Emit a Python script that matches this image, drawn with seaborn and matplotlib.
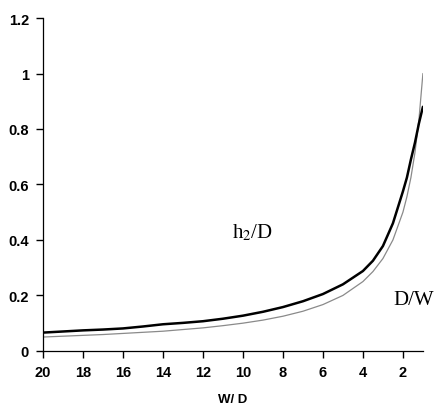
import matplotlib
matplotlib.use("Agg")
import matplotlib.pyplot as plt
import seaborn as sns
import pandas as pd

# W/D ratios along the horizontal axis
w_over_d = [20, 19, 18, 17, 16, 15, 14, 13, 12, 11, 10, 9, 8, 7, 6, 5, 4, 3.5,
            3, 2.5, 2, 1.8, 1.6, 1.4, 1.2, 1]
# h2/D curve (heavy line)
h2_over_d = [0.066, 0.070, 0.074, 0.077, 0.081, 0.088, 0.096, 0.101, 0.107,
             0.116, 0.127, 0.141, 0.158, 0.179, 0.205, 0.240, 0.288, 0.325,
             0.378, 0.460, 0.575, 0.625, 0.690, 0.750, 0.820, 0.880]
# D/W curve (light line)
d_over_w = [0.050, 0.053, 0.056, 0.059, 0.063, 0.067, 0.071, 0.077, 0.083,
            0.091, 0.100, 0.111, 0.125, 0.143, 0.167, 0.200, 0.250, 0.286,
            0.333, 0.400, 0.500, 0.556, 0.625, 0.714, 0.833, 1.000]

x_ticks = [20, 18, 16, 14, 12, 10, 8, 6, 4, 2]
y_ticks = [0, 0.2, 0.4, 0.6, 0.8, 1, 1.2]
y_tick_labels = ["0", "0.2", "0.4", "0.6", "0.8", "1", "1.2"]

df = pd.DataFrame({"W/D": w_over_d, "h2/D": h2_over_d, "D/W": d_over_w})

sns.set_style("white", {
    "xtick.bottom": True, "ytick.left": True,
    "xtick.color": "black", "ytick.color": "black",
    "axes.edgecolor": "black", "text.color": "black",
    "axes.labelcolor": "black",
})
plt.rcParams["font.family"] = ["Liberation Sans", "DejaVu Sans"]
plt.rcParams["mathtext.fontset"] = "stix"

fig = plt.figure(figsize=(4.48, 4.14), dpi=100)
ax = fig.add_axes([0.096, 0.150, 0.848, 0.804])

sns.lineplot(data=df, x="W/D", y="D/W", ax=ax, color="#8a8a8a", lw=0.9,
             sort=False, estimator=None)
sns.lineplot(data=df, x="W/D", y="h2/D", ax=ax, color="black", lw=1.8,
             sort=False, estimator=None)

ax.set_xlim(20, 1)
ax.set_ylim(0, 1.2)
ax.set_xticks(x_ticks)
ax.set_xticklabels([str(t) for t in x_ticks], fontweight="bold", fontsize=10.5)
ax.set_yticks(y_ticks)
ax.set_yticklabels(y_tick_labels, fontweight="bold", fontsize=10.5)
ax.xaxis.set_tick_params(which="major", bottom=True, direction="out",
                         length=5, width=1.0, color="black", pad=5)
ax.yaxis.set_tick_params(which="major", left=True, direction="out",
                         length=5, width=1.0, color="black", pad=5)
ax.set_xlabel("W/ D", fontweight="bold", fontsize=9.5, labelpad=10)
ax.set_ylabel("")

for side in ("top", "right"):
    ax.spines[side].set_visible(False)
for side in ("left", "bottom"):
    ax.spines[side].set_color("black")
    ax.spines[side].set_linewidth(0.9)

ax.text(10.55, 0.43, r"h$_2$/D", family="Liberation Serif", fontsize=15,
        va="center", ha="left")
ax.text(2.5, 0.187, "D/W", family="Liberation Serif", fontsize=15,
        va="center", ha="left", clip_on=False)

fig.savefig("out.png", dpi=100)
